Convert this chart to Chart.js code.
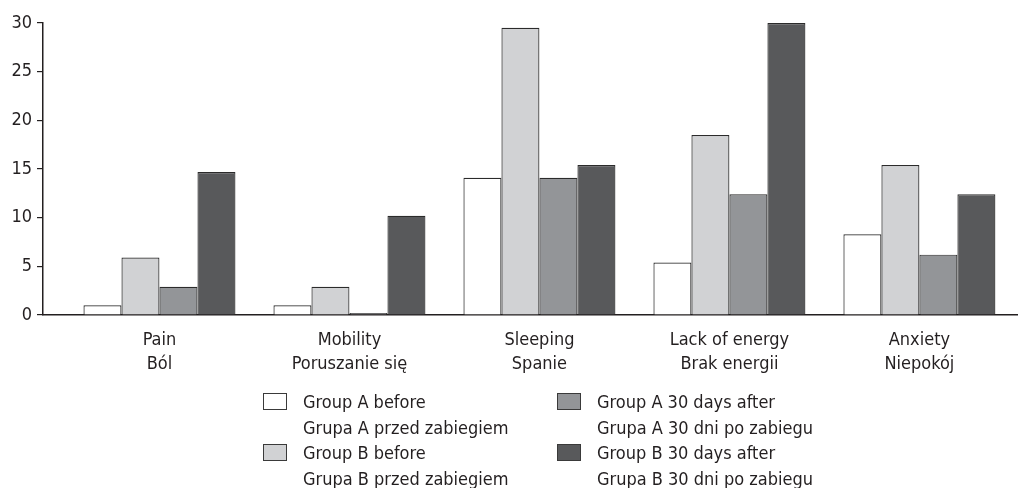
<!DOCTYPE html>
<html>
<head>
<meta charset="utf-8">
<title>Symptoms before and after</title>
<script src="https://cdn.jsdelivr.net/npm/chart.js@4"></script>
<style>
    html, body { margin: 0; padding: 0; background: #fff; }
    #wrap { position: relative; width: 1018px; height: 488px; }
    #legend {
        position: absolute; left: 263px; top: 389px;
        display: grid; grid-auto-flow: column;
        grid-template-columns: 294px auto; grid-template-rows: 51px 51px;
        font-family: "Liberation Sans Narrow", "DejaVu Sans Condensed", sans-serif;
        font-size: 18px; line-height: 25.5px; color: #231f20;
    }
    .item { display: flex; align-items: flex-start; }
    .box { width: 22px; height: 15px; margin-top: 4px; margin-right: 16px; border: 1px solid #3a3a3a; flex: none; }
</style>
</head>
<body>
<div id="wrap">
    <canvas id="chart" width="1018" height="488"></canvas>
    <div id="legend"></div>
</div>
<script>
// categories (English / Polish)
const categories = [
    ['Pain', 'Ból'],
    ['Mobility', 'Poruszanie się'],
    ['Sleeping', 'Spanie'],
    ['Lack of energy', 'Brak energii'],
    ['Anxiety', 'Niepokój']
];

// series names
const seriesNames = [
    ['Group A before', 'Grupa A przed zabiegiem'],
    ['Group B before', 'Grupa B przed zabiegiem'],
    ['Group A 30 days after', 'Grupa A 30 dni po zabiegu'],
    ['Group B 30 days after', 'Grupa B 30 dni po zabiegu']
];

// values
const groupABefore = [1.0, 1.0, 14.1, 5.4, 8.3];
const groupBBefore = [5.9, 2.9, 29.5, 18.5, 15.4];
const groupAAfter  = [2.9, 0.2, 14.1, 12.4, 6.2];
const groupBAfter  = [14.7, 10.2, 15.4, 30.0, 12.4];

const yTicks = [0, 5, 10, 15, 20, 25, 30];

const fills = ['#ffffff', '#d1d2d4', '#939598', '#58595b'];
const ink = '#231f20';
const fontFamily = '"Liberation Sans Narrow", "DejaVu Sans Condensed", sans-serif';

// the category band is shifted right of the y axis in the original
const xStart = -0.613;
const xRange = 5.132;

const seriesValues = [groupABefore, groupBBefore, groupAAfter, groupBAfter];

const datasets = seriesValues.map((vals, i) => ({
    label: seriesNames[i].join(' / '),
    data: vals,
    backgroundColor: fills[i],
    borderColor: '#2b2b2b',
    borderWidth: 1.2,
    borderSkipped: 'bottom',
    barPercentage: 1,
    categoryPercentage: 0.8
}));

new Chart(document.getElementById('chart'), {
    type: 'bar',
    data: { labels: categories, datasets },
    options: {
        responsive: false,
        animation: false,
        devicePixelRatio: 1,
        layout: { padding: { top: 23, bottom: 99, left: 0, right: 0 } },
        plugins: { legend: { display: false }, tooltip: { enabled: false } },
        scales: {
            x: {
                offset: true,
                grid: { display: false, drawTicks: false },
                border: { display: true, color: ink, width: 1.5 },
                ticks: {
                    color: ink, padding: 13, maxRotation: 0, autoSkip: false,
                    font: { family: fontFamily, size: 18, lineHeight: 1.333 }
                },
                afterBuildTicks: (scale) => {
                    scale._startValue = xStart;
                    scale._valueRange = xRange;
                }
            },
            y: {
                min: yTicks[0],
                max: yTicks[yTicks.length - 1],
                afterBuildTicks: (scale) => { scale.ticks = yTicks.map(v => ({ value: v })); },
                afterFit: (scale) => { scale.width = 43; },
                grid: { drawOnChartArea: false, drawTicks: true, tickLength: 6, color: ink, lineWidth: 1.2 },
                border: { display: true, color: ink, width: 1.5 },
                ticks: {
                    color: ink, padding: 5,
                    font: { family: fontFamily, size: 18 }
                }
            }
        }
    }
});

// HTML legend, two lines per entry
const legend = document.getElementById('legend');
seriesNames.forEach((name, i) => {
    legend.insertAdjacentHTML('beforeend', `
        <div class="item">
            <span class="box" style="background:${fills[i]}"></span>
            <span>${name[0]}<br>${name[1]}</span>
        </div>`);
});
</script>
</body>
</html>
